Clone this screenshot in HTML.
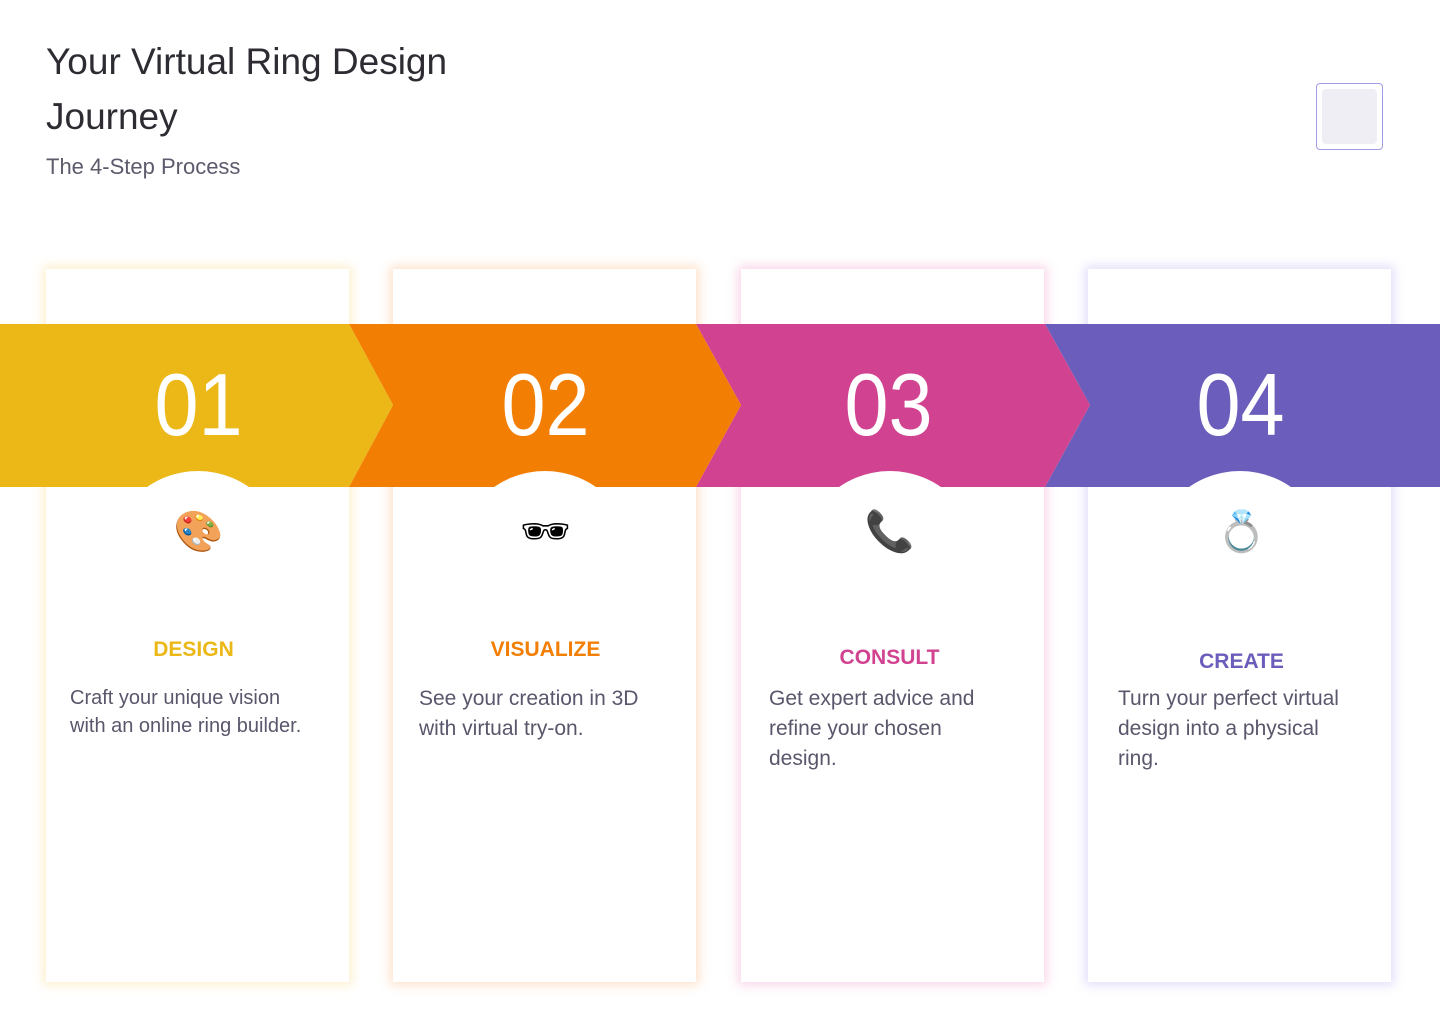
<!DOCTYPE html>
<html><head><meta charset="utf-8"><style>
*{margin:0;padding:0;box-sizing:border-box}
body{width:1440px;height:1024px;background:#fff;position:relative;overflow:hidden;font-family:"Liberation Sans",sans-serif}
.a{position:absolute}
h1{position:absolute;left:46px;top:34px;font-size:37px;font-weight:400;color:#2e2b33;line-height:55px}
.sub{left:46px;top:154px;font-size:22px;color:#5e5a6c}
.card{position:absolute;top:269px;width:303px;height:713px;background:#fff}
.num{position:absolute;top:354px;width:303px;text-align:center;font-size:88px;font-weight:300;color:#fff;transform:scaleX(0.9)}
.ic{position:absolute;width:303px;text-align:center;font-size:40px;top:508px;font-family:"DejaVu Sans",sans-serif}
.t{position:absolute;width:303px;text-align:center;font-size:21px;font-weight:700}
.d{position:absolute;font-size:21px;color:#5a566b;line-height:30px}
</style></head><body>
<h1>Your Virtual Ring Design<br>Journey</h1>
<div class="a sub">The 4-Step Process</div>
<div class="a" style="left:1316px;top:83px;width:67px;height:67px;border:1.5px solid #a09ce6;border-radius:4px;background:#fff"><div style="position:absolute;left:5px;top:5px;width:55px;height:55px;background:#efeef4;border-radius:4px"></div></div>

<div class="card" style="left:46px;box-shadow:0 0 10px 3px rgba(250,215,130,.4)"></div>
<div class="card" style="left:393px;box-shadow:0 0 10px 3px rgba(250,180,120,.4)"></div>
<div class="card" style="left:741px;box-shadow:0 0 10px 3px rgba(240,150,200,.4)"></div>
<div class="card" style="left:1088px;box-shadow:0 0 10px 3px rgba(180,170,240,.4)"></div>

<svg class="a" style="left:0;top:0" width="1440" height="1024">
<polygon points="1045,324 1440,324 1440,487 1045,487 1090,405" fill="#6a5dbb"/>
<polygon points="696,324 1045,324 1090,405 1045,487 696,487 741,405" fill="#d14390"/>
<polygon points="349,324 696,324 741,405 696,487 349,487 393,405" fill="#f27f03"/>
<polygon points="0,324 349,324 393,405 349,487 0,487" fill="#ebb818"/>
<circle cx="198" cy="560" r="89" fill="#fff"/>
<circle cx="545" cy="560" r="89" fill="#fff"/>
<circle cx="890" cy="560" r="89" fill="#fff"/>
<circle cx="1240" cy="560" r="89" fill="#fff"/>
<rect x="46" y="487" width="303" height="120" fill="#fff"/>
<rect x="393" y="487" width="303" height="120" fill="#fff"/>
<rect x="741" y="487" width="303" height="120" fill="#fff"/>
<rect x="1088" y="487" width="303" height="120" fill="#fff"/>
</svg>

<div class="num" style="left:47px">01</div>
<div class="num" style="left:394px">02</div>
<div class="num" style="left:737px">03</div>
<div class="num" style="left:1089px">04</div>

<div class="ic" style="left:47px">🎨</div>
<div class="ic" style="left:394px">🕶</div>
<div class="ic" style="left:738px">📞</div>
<div class="ic" style="left:1090px">💍</div>

<div class="t" style="left:42px;top:638px;color:#ebb818">DESIGN</div>
<div class="t" style="left:394px;top:638px;color:#f27f03">VISUALIZE</div>
<div class="t" style="left:738px;top:646px;color:#d14390">CONSULT</div>
<div class="t" style="left:1090px;top:650px;color:#6a5dbb">CREATE</div>

<div class="d" style="left:70px;top:684px;font-size:20px;line-height:28px">Craft your unique vision<br>with an online ring builder.</div>
<div class="d" style="left:419px;top:684px">See your creation in 3D<br>with virtual try-on.</div>
<div class="d" style="left:769px;top:684px">Get expert advice and<br>refine your chosen<br>design.</div>
<div class="d" style="left:1118px;top:684px">Turn your perfect virtual<br>design into a physical<br>ring.</div>
</body></html>
